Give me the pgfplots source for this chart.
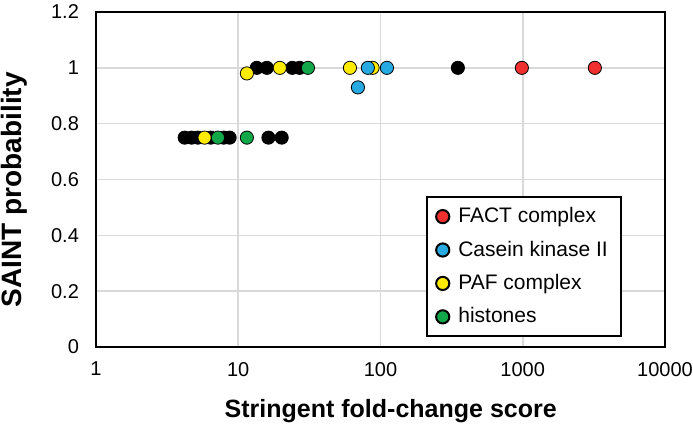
\documentclass[border=0pt]{standalone}
\usepackage{fontspec}
\setmainfont{Liberation Sans}
\usepackage{pgfplots}
\pgfplotsset{compat=1.18}
\definecolor{cfact}{HTML}{F0302E}
\definecolor{cck}{HTML}{27AAE1}
\definecolor{cpaf}{HTML}{FFEB00}
\definecolor{chist}{HTML}{12A84A}
\definecolor{cgrid}{HTML}{D9D9D9}
\begin{document}
\begin{tikzpicture}
\useasboundingbox (-48pt,-41.5pt) rectangle (298.5pt,173.5pt);
\begin{axis}[
    scale only axis,
    width=284.5pt, height=167.5pt,
    xmode=log, log basis x=10,
    xmin=1, xmax=10000,
    ymin=0, ymax=1.2,
    xtick={1,10,100,1000,10000},
    xticklabels={1,10,100,1000,10000},
    ytick={0,0.2,0.4,0.6,0.8,1,1.2},
    yticklabels={0,0.2,0.4,0.6,0.8,1,1.2},
    major tick length=0pt,
    xmajorgrids, ymajorgrids,
    grid style={cgrid, line width=0.8pt},
    axis line style={black, line width=1pt},
    tick label style={font=\fontsize{10}{12}\selectfont},
    xticklabel style={yshift=-4pt},
    yticklabel style={xshift=-5pt},
    xlabel={\textbf{Stringent fold-change score}},
    ylabel={\textbf{SAINT probability}},
    xlabel style={font=\fontsize{12.5}{14}\selectfont,
        at={(axis description cs:0.518,-0.19)}, anchor=center},
    ylabel style={font=\fontsize{14}{16}\selectfont,
        at={(axis description cs:-0.143,0.47)}, anchor=center, rotate=0},
    every axis plot/.append style={only marks, mark=*, mark size=3.3pt,
        mark options={draw=black, line width=1pt}},
    legend style={at={(0.924,0.03)}, anchor=south east, draw=black,
        line width=1pt, font=\fontsize{10.5}{12}\selectfont,
        row sep=3.6pt, inner xsep=4.5pt, inner ysep=3pt,
        /tikz/every odd column/.append style={column sep=2.5pt}},
    legend cell align=left,
]
% legend entries
\addlegendimage{only marks, mark=*, mark size=3.3pt, mark options={fill=cfact, draw=black, line width=1pt}}
\addlegendentry{FACT complex}
\addlegendimage{only marks, mark=*, mark size=3.3pt, mark options={fill=cck, draw=black, line width=1pt}}
\addlegendentry{Casein kinase II}
\addlegendimage{only marks, mark=*, mark size=3.3pt, mark options={fill=cpaf, draw=black, line width=1pt}}
\addlegendentry{PAF complex}
\addlegendimage{only marks, mark=*, mark size=3.3pt, mark options={fill=chist, draw=black, line width=1pt}}
\addlegendentry{histones}

% other preys
\addplot[forget plot, mark options={fill=black}] coordinates {
    (4.2,0.75) (4.7,0.75) (5.2,0.75) (6.4,0.75) (7.9,0.75) (8.7,0.75)
    (16.3,0.75) (20.2,0.75)
    (13.5,1) (15.9,1) (24.0,1) (27.0,1) (350,1)
};
% PAF complex
\addplot[forget plot, mark options={fill=cpaf}] coordinates {
    (5.8,0.75) (11.5,0.98) (19.6,1) (61,1) (88,1)
};
% histones
\addplot[forget plot, mark options={fill=chist}] coordinates {
    (7.2,0.75) (11.5,0.75) (30.9,1)
};
% Casein kinase II
\addplot[forget plot, mark options={fill=cck}] coordinates {
    (69.4,0.93) (81.5,1) (111,1)
};
% FACT complex
\addplot[forget plot, mark options={fill=cfact}] coordinates {
    (986,1) (3213,1)
};
\end{axis}
\end{tikzpicture}
\end{document}
